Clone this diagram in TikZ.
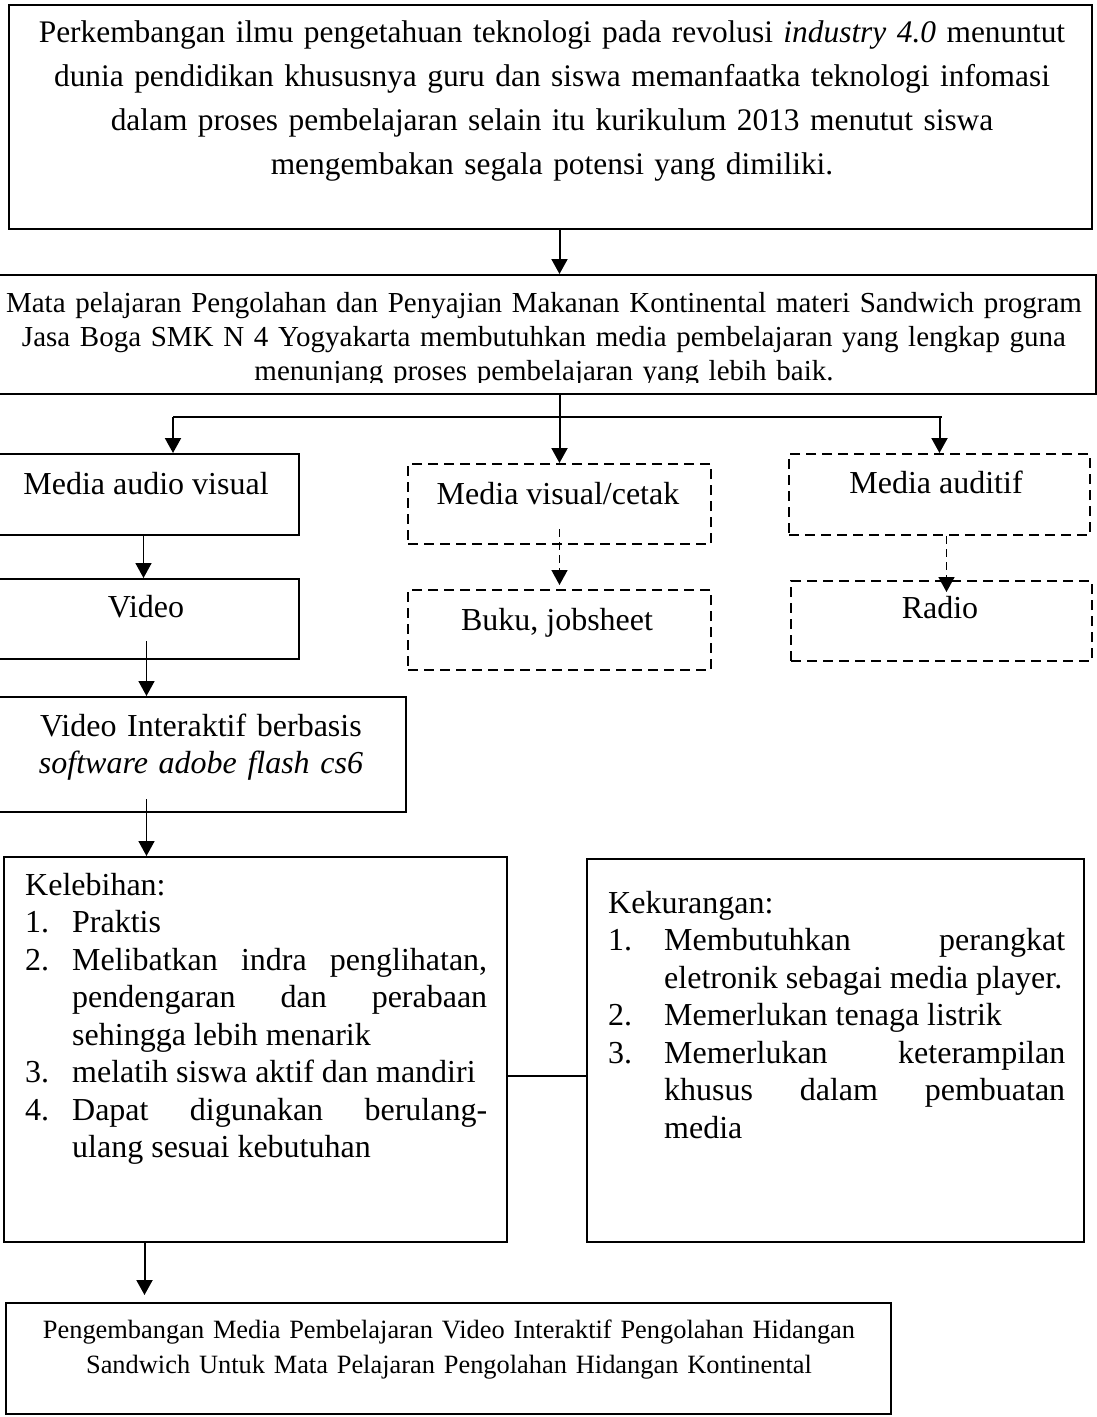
\documentclass[tikz,border=0pt]{standalone}
\usepackage{fontspec}
\setmainfont{Liberation Serif}
\usetikzlibrary{positioning}
\usetikzlibrary{arrows.meta, calc}

\newcommand{\butir}[3]{\par\hangindent=#1\hangafter=1\noindent\makebox[#1][l]{#2}#3\par}
\tolerance=10000
\hyphenpenalty=10000

\tikzset{
  kotak/.style={draw=black, line width=2pt, inner sep=0pt, anchor=north west},
  kotakputus/.style={kotak, dash pattern=on 10pt off 6pt},
  teks/.style={inner sep=0pt, anchor=base},
  hurufbesar/.style={font=\fontsize{32pt}{37.5pt}\selectfont},
  panah/.style={line width=2pt, -{Triangle[length=15pt,width=16pt]}},
  panahtipis/.style={line width=1.6pt, -{Triangle[length=15pt,width=16pt]}},
  panahputus/.style={panahtipis, dash pattern=on 8pt off 5pt},
  garis/.style={line width=2pt},
}

\begin{document}
\begin{tikzpicture}[x=1pt,y=-1pt]
\useasboundingbox (0,0) rectangle (1096,1417);

\node[kotak,minimum width=1083pt,minimum height=224pt] (perk) at (8,4) {};
\node[kotak,minimum width=1100pt,minimum height=119pt] (mapel) at (-5,274) {};
\node[kotak,minimum width=303pt,minimum height=81pt] (mav) at (-5,453) {};
\node[kotak,minimum width=303pt,minimum height=80pt] (video) at (-5,578) {};
\node[kotak,minimum width=410pt,minimum height=115pt] (vi) at (-5,696) {};
\node[kotakputus,minimum width=303pt,minimum height=80pt] (mvc) at (407,463) {};
\node[kotakputus,minimum width=303pt,minimum height=80pt] (buku) at (407,589) {};
\node[kotakputus,minimum width=301pt,minimum height=81pt] (maud) at (788,453) {};
\node[kotakputus,minimum width=301pt,minimum height=80pt] (radio) at (790,580) {};
\node[kotak,minimum width=503pt,minimum height=385pt] (lebih) at (3,856) {};
\node[kotak,minimum width=497pt,minimum height=383pt] (kurang) at (586,858) {};
\node[kotak,minimum width=885pt,minimum height=111pt] (hasil) at (5,1302) {};

\node[teks,text width=1083pt,align=center,font=\fontsize{31.4pt}{44pt}\selectfont] (perk-t) at (552,42) {Perkembangan ilmu pengetahuan teknologi pada revolusi \textit{industry 4.0} menuntut\\ dunia pendidikan khususnya guru dan siswa memanfaatka teknologi infomasi\\ dalam proses pembelajaran selain itu kurikulum 2013 menutut siswa\\ mengembakan segala potensi yang dimiliki.};

\begin{scope}
\clip (-5,274) rectangle (1096,382);
\node[teks,text width=1090pt,align=center,font=\fontsize{29pt}{34pt}\selectfont] (mapel-t) at (544,312) {Mata pelajaran Pengolahan dan Penyajian Makanan Kontinental materi Sandwich program\\ Jasa Boga SMK N 4 Yogyakarta membutuhkan media pembelajaran yang lengkap guna\\ menunjang proses pembelajaran yang lebih baik.};
\end{scope}

\node[teks,hurufbesar] (mav-t) at (146,494) {Media audio visual};
\node[teks,hurufbesar] (video-t) at (146,617) {Video};
\node[teks,hurufbesar,text width=400pt,align=center] (vi-t) at (201,736) {Video Interaktif berbasis\\ \textit{software adobe flash cs6}};
\node[teks,hurufbesar] (mvc-t) at (558,504) {Media visual/cetak};
\node[teks,hurufbesar] (buku-t) at (557,630) {Buku, jobsheet};
\node[teks,hurufbesar] (maud-t) at (936,493) {Media auditif};
\node[teks,hurufbesar] (radio-t) at (940,618) {Radio};

\node[teks,hurufbesar,anchor=base west,text width=462pt,align=justify] (lebih-t) at (25,895) {Kelebihan:
\butir{47pt}{1.}{Praktis}
\butir{47pt}{2.}{Melibatkan indra penglihatan,\linebreak pendengaran dan perabaan\linebreak sehingga lebih menarik}
\butir{47pt}{3.}{melatih siswa aktif dan mandiri}
\butir{47pt}{4.}{Dapat digunakan berulang-\linebreak ulang sesuai kebutuhan}};

\node[teks,hurufbesar,anchor=base west,text width=457pt,align=justify] (kurang-t) at (608,913) {Kekurangan:
\butir{56pt}{1.}{Membutuhkan perangkat\linebreak eletronik sebagai media player.}
\butir{56pt}{2.}{Memerlukan tenaga listrik}
\butir{56pt}{3.}{Memerlukan keterampilan\linebreak khusus dalam pembuatan\linebreak media}};

\node[teks,text width=885pt,align=center,font=\fontsize{26.4pt}{35pt}\selectfont] (hasil-t) at (449,1338) {Pengembangan Media Pembelajaran Video Interaktif Pengolahan Hidangan\\ Sandwich Untuk Mata Pelajaran Pengolahan Hidangan Kontinental};

\draw[panah] (perk.south -| mvc.north) -- (mapel.north -| mvc.north);
\coordinate (cab) at (173,417);
\draw[garis] (cab) -- ($(cab -| maud.north)+(2,0)$);
\draw[panah] (mapel.south -| mvc.north) -- (mvc.north);
\draw[panah] (cab) -- (cab |- mav.north);
\draw[panah] (cab -| maud.north) -- (maud.north);

\coordinate (a1) at ($(mav.south)+(-4,0)$);
\draw[panahtipis] (a1) -- (a1 |- video.north);
\coordinate (a2) at ($(video.south)+(-1,-19)$);
\draw[panahtipis] (a2) -- (a2 |- vi.north);
\coordinate (a3) at ($(a2 |- vi.south)+(0,-14)$);
\draw[panahtipis] (a3) -- (a3 |- lebih.north);
\coordinate (a4) at ($(a2 |- lebih.south)+(-2,0)$);
\draw[panah] (a4) -- ($(a4 |- hasil.north)+(0,-7)$);

\coordinate (a5) at ($(mvc.south)+(0,-16)$);
\draw[panahputus] (a5) -- ($(buku.north)+(0,-4)$);
\coordinate (a6) at ($(maud.south)+(7,0)$);
\draw[panahputus] (a6) -- ($(a6 |- radio.north)+(0,12)$);

\coordinate (a7) at ($(lebih.east)+(0,26)$);
\draw[garis] (a7) -- (a7 -| kurang.west);

\end{tikzpicture}
\end{document}
